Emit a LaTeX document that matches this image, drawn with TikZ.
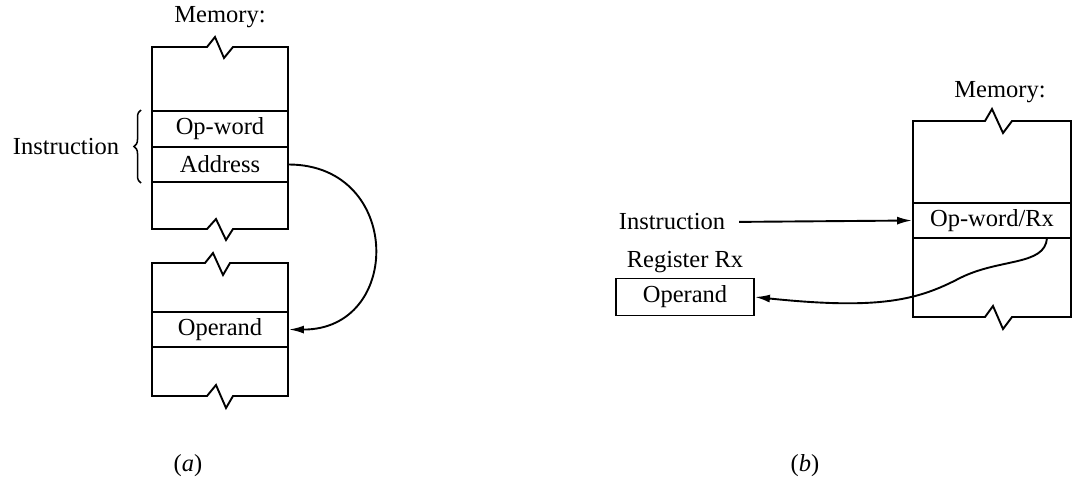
\documentclass[tikz,border=0pt]{standalone}
\usepackage{fontspec}
\setmainfont{Liberation Serif}
\usetikzlibrary{arrows.meta,decorations.pathreplacing}
\begin{document}
\begin{tikzpicture}[x=1pt,y=-1pt,
  line width=1.9pt,
  every node/.style={font=\fontsize{24.5}{28}\selectfont},
  cell/.style={draw, minimum width=136pt, minimum height=35pt, inner sep=0pt},
  wcell/.style={cell, minimum width=159pt},
  lbl/.style={inner sep=0pt},
  arr/.style={-{Latex[length=15pt,width=8pt]}}]
\useasboundingbox (0,0) rectangle (1074,477);

% ---------- (a) ----------
\node[lbl] (mema) at (220,17) {Memory:};
\draw (152,229) -- (152,47) -- (207,47) -- (215,37) -- (224,58) -- (233,47) -- (288,47)
      -- (288,229) -- (233,229) -- (226,240) -- (216,219) -- (207,229) -- cycle;
\node[cell, minimum height=36pt] (opw) at (220,129) {Op-word};
\node[cell] (addr) at (220,164.5) {Address};

\draw (152,396) -- (152,263) -- (205,263) -- (213,253) -- (223,275) -- (230,263) -- (288,263)
      -- (288,396) -- (233,396) -- (226,408) -- (216,385) -- (207,396) -- cycle;
\node[cell] (oper) at (220,329.5) {Operand};

\node[lbl] (instra) at (66,147) {Instruction};
\coordinate (bb) at (141,183);
\coordinate (bt) at (141,110);
\draw[line width=1.5pt, decorate, decoration={brace, amplitude=7pt}] (bb) -- (bt);

\draw[arr] (addr.east) .. controls (403,165) and (403,330) .. (oper.east);

\node[lbl] (capa) at (188,466) {(\textit{a})};

% ---------- (b) ----------
\node[lbl] (memb) at (1000,92) {Memory:};
\draw (913,317) -- (913,121) -- (985,121) -- (992,109) -- (1003,133) -- (1012,121) -- (1071,121)
      -- (1071,317) -- (1012,317) -- (1003,329) -- (993,306) -- (985,317) -- cycle;
\node[wcell, minimum width=158pt] (opwr) at (992,220.5) {Op-word/Rx};

\node[lbl] (instrb) at (672,222) {Instruction};
\draw[arr, shorten <=13pt] (instrb.east) -- (opwr.west);

\node[lbl] (regl) at (685,262) {Register Rx};
\node[cell, minimum width=138pt, minimum height=37pt] (reg) at (685,297) {Operand};

\coordinate (rs) at (1047,238);
\draw[arr] (rs) .. controls (1045,266) and (1000,258) .. (960,278)
           .. controls (918,300) and (880,310) .. (reg.east);

\node[lbl] (capb) at (805,466) {(\textit{b})};
\end{tikzpicture}
\end{document}
